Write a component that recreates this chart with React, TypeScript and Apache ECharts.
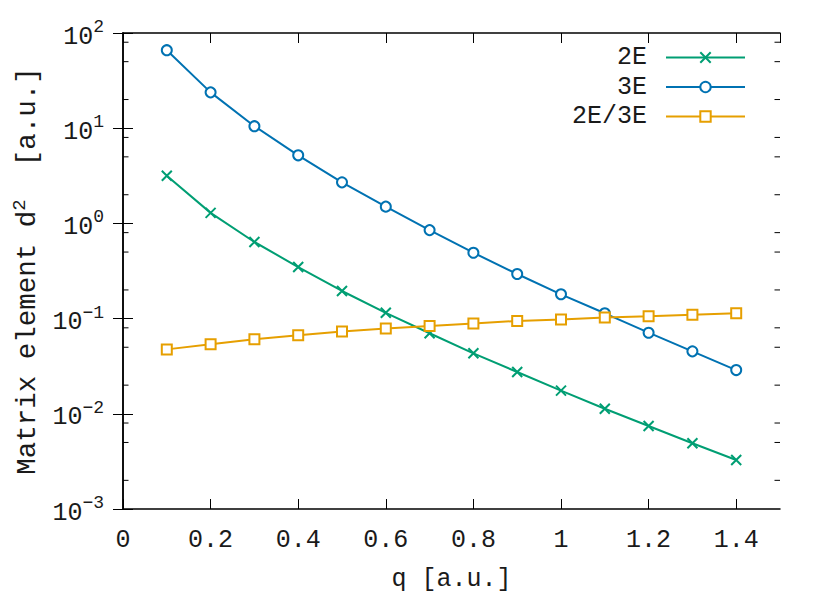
import React, { useEffect, useRef } from 'react';
import * as echarts from 'echarts';

const qValues = [0.1, 0.2, 0.3, 0.4, 0.5, 0.6, 0.7, 0.8, 0.9, 1.0, 1.1, 1.2, 1.3, 1.4];
const e2Values = [3.17, 1.29, 0.638, 0.348, 0.195, 0.115, 0.0702, 0.0432, 0.0275, 0.0175, 0.0113, 0.00745, 0.0049, 0.00327];
const e3Values = [66, 23.8, 10.5, 5.19, 2.7, 1.5, 0.85, 0.492, 0.294, 0.18, 0.1137, 0.0711, 0.0453, 0.0288];
const ratioValues = [0.0475, 0.0537, 0.0606, 0.0667, 0.0733, 0.0787, 0.0836, 0.089, 0.0945, 0.098, 0.103, 0.106, 0.11, 0.1137];
const seriesNames = ['2E', '3E', '2E/3E'];
const minorTickValues = [
  0.002, 0.005, 0.008, 0.02, 0.05, 0.08, 0.2, 0.5, 0.8, 2, 5, 8, 20, 50, 80,
];
const xMin = 0;
const xMax = 1.5;
const xInterval = 0.2;
const yMin = 0.001;
const yMax = 100;

const FONT = 'Liberation Mono';
const FS = 25;
const SUP = 18;
const YNAME_FS = 27.5;
const TXT = '#1a1a1a';
const GREEN = '#009e73';
const BLUE = '#0072b2';
const ORANGE = '#e69f00';

function pairs(ys: number[]) {
  return qValues.map((q, i) => [q, ys[i]]);
}

function supLabel(v: number) {
  const e = Math.round(Math.log10(v));
  const s = e < 0 ? '\u2212' + String(-e) : String(e);
  return `{b|10}{s|${s}}`;
}

export default function App() {
  const ref = useRef<HTMLDivElement>(null);
  useEffect(() => {
    if (!ref.current) return;
    const chart = echarts.init(ref.current, undefined, { renderer: 'svg' });
    const axisLineStyle = { color: '#000', width: 1.5 };
    const tickStyle = { color: '#000', width: 1 };
    const option: any = {
      animation: false,
      backgroundColor: '#fff',
      grid: { left: 123, right: 50, top: 33, bottom: 92, containLabel: false },
      legend: {
        data: seriesNames,
        orient: 'vertical',
        align: 'right',
        right: 84,
        top: 45,
        padding: 0,
        itemWidth: 79,
        itemHeight: 13,
        itemGap: 4.5,
        textStyle: {
          fontFamily: FONT,
          fontSize: FS,
          color: TXT,
          lineHeight: 24,
          padding: [0, 14, 0, 0],
        },
      },
      xAxis: [
        {
          type: 'value',
          min: xMin,
          max: xMax,
          interval: xInterval,
          position: 'bottom',
          axisLine: { show: true, lineStyle: axisLineStyle },
          axisTick: { show: true, inside: true, length: 10, lineStyle: tickStyle },
          axisLabel: {
            fontFamily: FONT,
            fontSize: FS,
            color: TXT,
            margin: 19,
            showMaxLabel: false,
          },
          splitLine: { show: false },
          name: 'q [a.u.]',
          nameLocation: 'middle',
          nameGap: 58,
          nameTextStyle: { fontFamily: FONT, fontSize: FS, color: TXT },
        },
        {
          type: 'value',
          min: xMin,
          max: xMax,
          interval: xInterval,
          position: 'top',
          axisLine: { show: true, lineStyle: axisLineStyle },
          axisTick: { show: true, inside: true, length: 10, lineStyle: tickStyle },
          axisLabel: { show: false },
          splitLine: { show: false },
        },
      ],
      yAxis: [
        {
          type: 'log',
          logBase: 10,
          min: yMin,
          max: yMax,
          position: 'left',
          axisLine: { show: true, lineStyle: axisLineStyle },
          axisTick: { show: true, inside: true, length: 10, lineStyle: tickStyle },
          minorTick: { show: false },
          splitLine: { show: false },
          axisLabel: {
            formatter: supLabel,
            margin: 19,
            rich: {
              b: { fontFamily: FONT, fontSize: FS, color: TXT, padding: [8, 0, 0, 0] },
              s: { fontFamily: FONT, fontSize: SUP, color: TXT, padding: [0, 0, 12, 0] },
            },
          },
          name: 'Matrix element d{s|2}  [a.u.]',
          nameLocation: 'middle',
          nameGap: 77,
          nameTextStyle: {
            fontFamily: FONT,
            fontSize: YNAME_FS,
            color: TXT,
            rich: {
              s: { fontFamily: FONT, fontSize: 19, color: TXT, padding: [0, 0, 15, 0] },
            },
          },
        },
        {
          type: 'log',
          logBase: 10,
          min: yMin,
          max: yMax,
          position: 'right',
          axisLine: { show: true, lineStyle: axisLineStyle },
          axisTick: { show: true, inside: true, length: 10, lineStyle: tickStyle },
          axisLabel: { show: false },
          splitLine: { show: false },
        },
      ],
      series: [
        {
          type: 'custom',
          name: 'minorTicks',
          silent: true,
          xAxisIndex: 0,
          yAxisIndex: 0,
          clip: false,
          z: 10,
          data: minorTickValues.map((v) => [xMin, v]),
          renderItem: (params: any, api: any) => {
            const v = api.value(1);
            const l = api.coord([xMin, v]);
            const r = api.coord([xMax, v]);
            return {
              type: 'group',
              children: [
                { type: 'line', shape: { x1: l[0], y1: l[1], x2: l[0] + 5.5, y2: l[1] }, style: { stroke: '#000', lineWidth: 1 } },
                { type: 'line', shape: { x1: r[0], y1: r[1], x2: r[0] - 5.5, y2: r[1] }, style: { stroke: '#000', lineWidth: 1 } },
              ],
            };
          },
        },
        {
          type: 'line',
          name: seriesNames[0],
          data: pairs(e2Values),
          symbol: 'path://M0,0L10,10M0,10L10,0',
          symbolSize: 10,
          color: GREEN,
          lineStyle: { color: GREEN, width: 2 },
          itemStyle: { color: GREEN, borderColor: GREEN, borderWidth: 2 },
          z: 3,
        },
        {
          type: 'line',
          name: seriesNames[1],
          data: pairs(e3Values),
          symbol: 'emptyCircle',
          symbolSize: 10,
          color: BLUE,
          lineStyle: { color: BLUE, width: 2 },
          itemStyle: { color: BLUE, borderColor: BLUE, borderWidth: 2 },
          z: 4,
        },
        {
          type: 'line',
          name: seriesNames[2],
          data: pairs(ratioValues),
          symbol: 'emptyRect',
          symbolSize: 10,
          color: ORANGE,
          lineStyle: { color: ORANGE, width: 2 },
          itemStyle: { color: ORANGE, borderColor: ORANGE, borderWidth: 2 },
          z: 5,
        },
      ],
    };
    chart.setOption(option);
    return () => chart.dispose();
  }, []);
  return <div ref={ref} style={{ width: 830, height: 601, position: 'absolute', left: 0, top: 0 }} />;
}
